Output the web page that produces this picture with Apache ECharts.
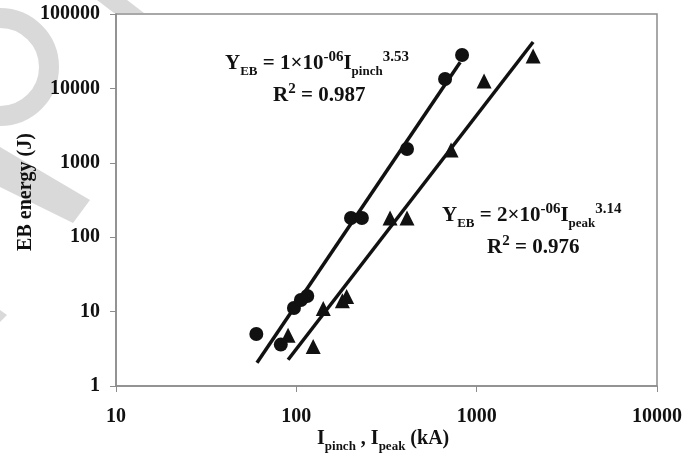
<!DOCTYPE html>
<html>
<head>
<meta charset="utf-8">
<script src="https://cdn.jsdelivr.net/npm/echarts@6/dist/echarts.min.js"></script>
<style>
html,body{margin:0;padding:0;background:#fff;}
#c{width:699px;height:457px;}
</style>
</head>
<body>
<div id="c"></div>
<script>
// ---- data ----
const pinchX = [60, 82, 97, 106, 115, 201, 231, 411, 668, 830];
const pinchY = [5.0, 3.6, 11.2, 14.3, 16.2, 181, 181, 1530, 13400, 28100];
const peakX  = [90, 124, 141, 180, 190, 331, 411, 721, 1099, 2056];
const peakY  = [4.8, 3.4, 11, 14, 16, 181, 181, 1490, 12600, 27200];
const pinchFitX = [60.5, 810];
const pinchFitY = [2.05, 22500];
const peakFitX = [90, 2056];
const peakFitY = [2.25, 42000];
const xTickLabels = ['10', '100', '1000', '10000'];
const yTickLabels = ['1', '10', '100', '1000', '10000', '100000'];

const FONT = '"Liberation Serif", "Times New Roman", serif';
const pair = (xs, ys) => xs.map((x, i) => [x, ys[i]]);
const labelFor = (arr) => (v) => {
  const s = String(Math.round(v));
  return arr.indexOf(s) >= 0 ? s : '';
};

const chart = echarts.init(document.getElementById('c'), null, {renderer: 'canvas'});

function makeRich(size) {
  return {
    m: {fontFamily: FONT, fontWeight: 'bold', fontSize: size, color: '#111', lineHeight: 28},
    s: {fontFamily: FONT, fontWeight: 'bold', fontSize: 13, color: '#111', verticalAlign: 'bottom', lineHeight: 14},
    p: {fontFamily: FONT, fontWeight: 'bold', fontSize: 15, color: '#111', verticalAlign: 'top', lineHeight: 14}
  };
}
function richText(x, y, text, size) {
  return {type: 'text', x: x, y: y, z: 10,
    style: {text: text, rich: makeRich(size), align: 'left', verticalAlign: 'top',
            font: 'bold ' + size + 'px ' + FONT, fill: '#111'}};
}
const wm = '#d9d9d9';
chart.setOption({
  animation: false,
  backgroundColor: '#fff',
  grid: {left: 116, right: 42, top: 14, bottom: 71, show: true,
         borderColor: '#8c8c8c', borderWidth: 1.5, backgroundColor: '#fff'},
  xAxis: {
    type: 'log', logBase: 10, min: 10, max: 10000, splitNumber: 3,
    axisLine: {show: true, lineStyle: {color: '#8c8c8c', width: 1.5}},
    axisTick: {show: true, inside: false, length: 6, lineStyle: {color: '#8c8c8c', width: 1}},
    minorTick: {show: false}, splitLine: {show: false},
    axisLabel: {margin: 21, fontFamily: FONT, fontWeight: 'bold', fontSize: 20, color: '#111',
                formatter: labelFor(xTickLabels)}
  },
  yAxis: {
    type: 'log', logBase: 10, min: 1, max: 100000, splitNumber: 5,
    axisLine: {show: true, lineStyle: {color: '#8c8c8c', width: 1.5}},
    axisTick: {show: true, inside: false, length: 6, lineStyle: {color: '#8c8c8c', width: 1}},
    minorTick: {show: false}, splitLine: {show: false},
    axisLabel: {margin: 16, fontFamily: FONT, fontWeight: 'bold', fontSize: 20, color: '#111',
                formatter: labelFor(yTickLabels)}
  },
  series: [
    {type: 'line', data: pair(pinchFitX, pinchFitY), symbol: 'none', z: 3,
     lineStyle: {color: '#111', width: 3.5}},
    {type: 'line', data: pair(peakFitX, peakFitY), symbol: 'none', z: 3,
     lineStyle: {color: '#111', width: 3.5}},
    {type: 'scatter', name: 'Ipinch', data: pair(pinchX, pinchY), symbol: 'circle', symbolSize: 14, z: 4,
     itemStyle: {color: '#111', opacity: 1}},
    {type: 'scatter', name: 'Ipeak', data: pair(peakX, peakY), symbol: 'triangle', symbolSize: 15, z: 4,
     itemStyle: {color: '#111', opacity: 1}}
  ],
  graphic: [
    // watermark fragments outside the plot
    {type: 'polygon', z: -5, shape: {points: [[97,0],[127,0],[144,13],[114,13]]}, style: {fill: wm}},
    {type: 'polygon', z: -5, shape: {points: [[0,147],[0,187],[73,223],[90,200]]}, style: {fill: wm}},
    {type: 'polygon', z: -5, shape: {points: [[0,310],[7,315],[0,322]]}, style: {fill: wm}},
    {type: 'arc', z: -5, shape: {cx: 0, cy: 67, r: 49, startAngle: -Math.PI/2, endAngle: Math.PI/2},
     style: {stroke: wm, lineWidth: 20, fill: null}},
    richText(225, 50, '{m|Y}{s|EB}{m| = 1×10}{p|-06}{m|I}{s|pinch}{p|3.53}', 21),
    richText(273, 82, '{m|R}{p|2}{m| = 0.987}', 21),
    richText(442, 202, '{m|Y}{s|EB}{m| = 2×10}{p|-06}{m|I}{s|peak}{p|3.14}', 21),
    richText(487, 234, '{m|R}{p|2}{m| = 0.976}', 21),
    richText(317, 425, '{m|I}{s|pinch}{m| , I}{s|peak}{m| (kA)}', 20),
    {type: 'text', x: 26, y: 192, rotation: Math.PI / 2, z: 10,
     style: {text: 'EB energy (J)', align: 'center', verticalAlign: 'middle',
             font: 'bold 20px ' + FONT, fill: '#111'}}
  ]
});
</script>
</body>
</html>
